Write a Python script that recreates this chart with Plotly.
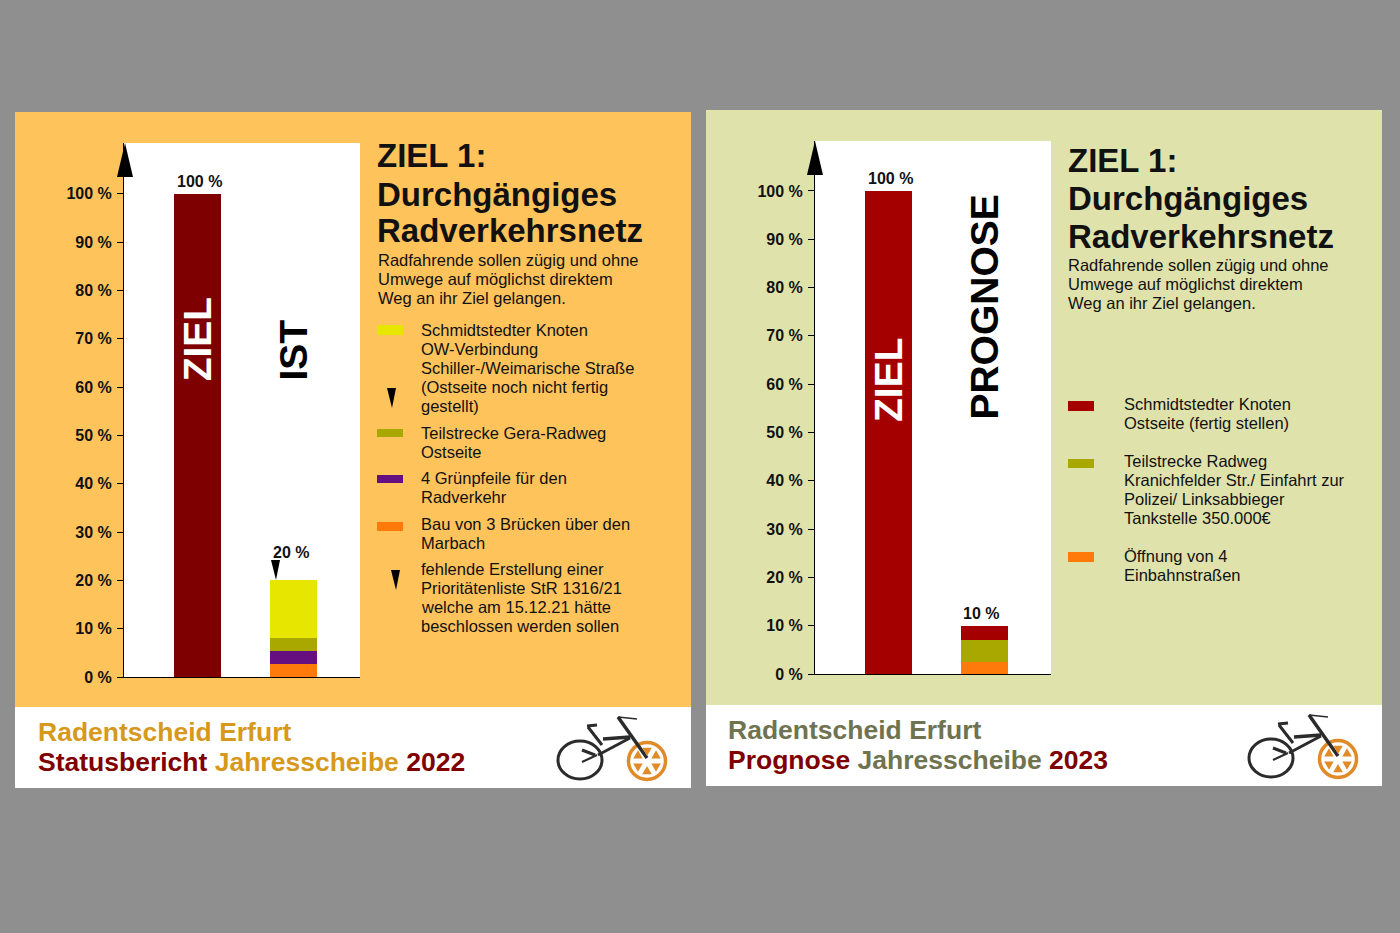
"""Radentscheid Erfurt: Ziel 1, Statusbericht 2022 und Prognose 2023"""
import math

import plotly.graph_objects as go

W, H = 1400, 933
FONT = "Liberation Sans"

# data
categories_2022 = ["ZIEL", "IST"]
categories_2023 = ["ZIEL", "PROGNOSE"]
ziel_values = [100, 0]
ist_orange = [0, 2.7]
ist_purple = [0, 2.7]
ist_olive = [0, 2.7]
ist_yellow = [0, 11.9]
prognose_orange = [0, 2.5]
prognose_olive = [0, 4.6]
prognose_red = [0, 2.9]
tick_vals = [0, 10, 20, 30, 40, 50, 60, 70, 80, 90, 100]
tick_text = ["0 %", "10 %", "20 %", "30 %", "40 %", "50 %", "60 %", "70 %", "80 %", "90 %", "100 %"]

title_lines = ["ZIEL 1:", "Durchgängiges", "Radverkehrsnetz"]
intro_lines = [
    "Radfahrende sollen zügig und ohne",
    "Umwege auf möglichst direktem",
    "Weg an ihr Ziel gelangen.",
]
legend_2022 = [
    ["Schmidtstedter Knoten", "OW-Verbindung", "Schiller-/Weimarische Straße", "(Ostseite noch nicht fertig", "gestellt)"],
    ["Teilstrecke Gera-Radweg", "Ostseite"],
    ["4 Grünpfeile für den", "Radverkehr"],
    ["Bau von 3 Brücken über den", "Marbach"],
    ["fehlende Erstellung einer", "Prioritätenliste StR 1316/21", "welche am 15.12.21 hätte", "beschlossen werden sollen"],
]
legend_2023 = [
    ["Schmidtstedter Knoten", "Ostseite (fertig stellen)"],
    ["Teilstrecke Radweg", "Kranichfelder Str./ Einfahrt zur", "Polizei/ Linksabbieger", "Tankstelle 350.000€"],
    ["Öffnung von 4", "Einbahnstraßen"],
]

GRAY = "#8f8f8f"
ORANGE_BG = "#ffc35c"
GREEN_BG = "#e0e2ac"
DARK_RED = "#7f0000"
RED = "#a50000"
YELLOW = "#e6e600"
OLIVE = "#a8a800"
PURPLE = "#660f80"
ORANGE = "#ff7a0a"
GOLD = "#d6991c"
GRAY_GREEN = "#6f7350"


def px(x):
    return x / W


def py(y):
    return 1 - y / H


def rect(x0, y0, x1, y1, color, layer="below"):
    return dict(type="rect", xref="paper", yref="paper", x0=px(x0), x1=px(x1), y0=py(y0), y1=py(y1),
                fillcolor=color, line_width=0, layer=layer)


def poly(points, color):
    path = "M" + " L".join(f"{px(x):.5f},{py(y):.5f}" for x, y in points) + " Z"
    return dict(type="path", xref="paper", yref="paper", path=path, fillcolor=color, line_width=0)


def stroke(x0, y0, x1, y1, width, color="#2b2b2b"):
    return dict(type="line", xref="paper", yref="paper", x0=px(x0), x1=px(x1), y0=py(y0), y1=py(y1),
                line=dict(color=color, width=width))


def ellipse(cx, cy, rx, ry, width, color):
    return dict(type="circle", xref="paper", yref="paper", x0=px(cx - rx), x1=px(cx + rx),
                y0=py(cy + ry), y1=py(cy - ry), line=dict(color=color, width=width))


def label(x, y, text, size, color="#111111", bold=False):
    if bold:
        text = f"<b>{text}</b>"
    return dict(xref="paper", yref="paper", x=px(x - 2), y=py(y), text=text, showarrow=False, xanchor="left",
                yanchor="middle", align="left", font=dict(family=FONT, size=size, color=color))


def bike(dx, dy):
    items = [
        ellipse(580 + dx, 760 + dy, 22, 19, 3, "#2b2b2b"),
        ellipse(647 + dx, 761 + dy, 18.5, 18.5, 3.5, "#e08a28"),
        stroke(618 + dx, 717 + dy, 637 + dx, 719 + dy, 1.5),
        stroke(618 + dx, 717 + dy, 647 + dx, 758 + dy, 3.5),
        stroke(603 + dx, 739 + dy, 630 + dx, 737 + dy, 3.5),
        stroke(588 + dx, 727 + dy, 602 + dx, 745 + dy, 3),
        stroke(587 + dx, 726 + dy, 597 + dx, 725 + dy, 3),
        stroke(630 + dx, 738 + dy, 598 + dx, 755 + dy, 3),
        stroke(582 + dx, 750 + dy, 595 + dx, 755 + dy, 3),
        stroke(582 + dx, 762 + dy, 597 + dx, 755 + dy, 2),
    ]
    cx, cy = 647 + dx, 761 + dy
    for k in range(6):
        a = math.radians(30 + 60 * k)
        pts = [(cx + 5 * math.cos(a), cy + 5 * math.sin(a))]
        for da in (-20, 20):
            pts.append((cx + 14 * math.cos(a + math.radians(da)), cy + 14 * math.sin(a + math.radians(da))))
        items.append(poly(pts, "#e08a28"))
    return items


fig = go.Figure()


def add_bar(y, color, xcats, axis):
    fig.add_trace(go.Bar(x=xcats, y=y, marker_color=color, marker_line_width=0, xaxis=f"x{axis}", yaxis=f"y{axis}",
                         showlegend=False))


add_bar(ziel_values, DARK_RED, categories_2022, "")
add_bar(ist_orange, ORANGE, categories_2022, "")
add_bar(ist_purple, PURPLE, categories_2022, "")
add_bar(ist_olive, OLIVE, categories_2022, "")
add_bar(ist_yellow, YELLOW, categories_2022, "")
add_bar(ziel_values, RED, categories_2023, "2")
add_bar(prognose_orange, ORANGE, categories_2023, "2")
add_bar(prognose_olive, OLIVE, categories_2023, "2")
add_bar(prognose_red, RED, categories_2023, "2")

shapes = [
    rect(15, 112, 691, 707, ORANGE_BG),
    rect(15, 707, 691, 788, "white"),
    rect(706, 110, 1382, 705, GREEN_BG),
    rect(706, 705, 1382, 786, "white"),
    dict(type="rect", xref="x domain", yref="y domain", x0=0, x1=1, y0=0, y1=1, fillcolor="white", line_width=0,
         layer="below"),
    dict(type="rect", xref="x2 domain", yref="y2 domain", x0=0, x1=1, y0=0, y1=1, fillcolor="white", line_width=0,
         layer="below"),
    poly([(125, 143), (117, 177), (133, 177)], "black"),
    poly([(815, 141), (807, 175), (823, 175)], "black"),
    poly([(271, 560), (280, 560), (276, 580)], "black"),
    poly([(387, 388), (396, 388), (392, 408)], "black"),
    poly([(391, 570), (400, 570), (396, 590)], "black"),
    rect(377, 325, 403, 335, YELLOW, "above"),
    rect(377, 429, 403, 437, OLIVE, "above"),
    rect(377, 475, 403, 483, PURPLE, "above"),
    rect(377, 522, 403, 531, ORANGE, "above"),
    rect(1068, 401, 1094, 411, RED, "above"),
    rect(1068, 459, 1094, 468, OLIVE, "above"),
    rect(1068, 552, 1094, 562, ORANGE, "above"),
]
shapes += bike(0, 0) + bike(691, -2)

annotations = []
for line, y in zip(title_lines, [155, 194, 231]):
    annotations.append(label(377, y, line, 33, bold=True))
for line, y in zip(title_lines, [160, 199, 236]):
    annotations.append(label(1068, y, line, 33, bold=True))
for line, y in zip(intro_lines, [260, 279, 298]):
    annotations.append(label(378, y, line, 16.5))
for line, y in zip(intro_lines, [265, 284, 303]):
    annotations.append(label(1068, y, line, 16.5))

for block, y in zip(legend_2022, [330, 433, 478, 524, 569]):
    for i, line in enumerate(block):
        annotations.append(label(421, y + 19 * i, line, 16.5))
for block, y in zip(legend_2023, [404, 461, 556]):
    for i, line in enumerate(block):
        annotations.append(label(1124, y + 19 * i, line, 16.5))

annotations.append(label(38, 732, "Radentscheid Erfurt", 26.5, GOLD, True))
annotations.append(label(38, 762, f"<span style='color:{DARK_RED}'>Statusbericht</span> Jahresscheibe "
                                  f"<span style='color:{DARK_RED}'>2022</span>", 26.5, GOLD, True))
annotations.append(label(728, 730, "Radentscheid Erfurt", 26.5, GRAY_GREEN, True))
annotations.append(label(728, 760, f"<span style='color:{DARK_RED}'>Prognose</span> Jahresscheibe "
                                   f"<span style='color:{DARK_RED}'>2023</span>", 26.5, GRAY_GREEN, True))


def bar_label(axis, x, y, text, xshift=0, yshift=2):
    return dict(xref=f"x{axis}", yref=f"y{axis}", x=x, y=y, text=f"<b>{text}</b>", showarrow=False, yanchor="bottom",
                xshift=xshift, yshift=yshift, font=dict(family=FONT, size=16, color="#111111"))


def bar_title(axis, x, y, text, color):
    return dict(xref=f"x{axis}", yref=f"y{axis}", x=x, y=y, text=f"<b>{text}</b>", showarrow=False, textangle=-90,
                font=dict(family=FONT, size=39, color=color))


annotations += [
    bar_label("", "ZIEL", 100, "100 %", 2),
    bar_label("", "IST", 20, "20 %", -3, 17),
    bar_label("2", "ZIEL", 100, "100 %", 2),
    bar_label("2", "PROGNOSE", 10, "10 %", -4),
    bar_title("", "ZIEL", 70, "ZIEL", "white"),
    bar_title("", "IST", 67.7, "IST", "black"),
    bar_title("2", "ZIEL", 61, "ZIEL", "white"),
    bar_title("2", "PROGNOSE", 76, "PROGNOSE", "black"),
]

xaxis_style = dict(range=[-0.766, 1.69], showticklabels=False, ticks="", showgrid=False, zeroline=False,
                   showline=True, linecolor="black", linewidth=1, type="category")
yaxis_style = dict(tickvals=tick_vals, ticktext=tick_text, ticks="outside", ticklen=6, tickcolor="black", tickwidth=1,
                   showgrid=False, zeroline=False, showline=True, linecolor="black", linewidth=1,
                   ticklabelstandoff=2, tickfont=dict(family=FONT, size=16, color="#111111", weight="bold"))

fig.update_layout(
    width=W,
    height=H,
    autosize=False,
    margin=dict(l=0, r=0, t=0, b=0, autoexpand=False),
    paper_bgcolor=GRAY,
    plot_bgcolor="white",
    font=dict(family=FONT),
    barmode="stack",
    bargap=0.51,
    showlegend=False,
    shapes=shapes,
    annotations=annotations,
    xaxis=dict(domain=[px(124), px(360)], anchor="y", **xaxis_style),
    yaxis=dict(domain=[py(677), py(143)], anchor="x", range=[0, 110.5], **yaxis_style),
    xaxis2=dict(domain=[px(815), px(1051)], anchor="y2", **xaxis_style),
    yaxis2=dict(domain=[py(674), py(141)], anchor="x2", range=[0, 110.35], **yaxis_style),
)

fig.write_html("out.html", config=dict(displayModeBar=False),
               post_script="document.body.style.margin='0';document.documentElement.style.overflow='hidden';")
